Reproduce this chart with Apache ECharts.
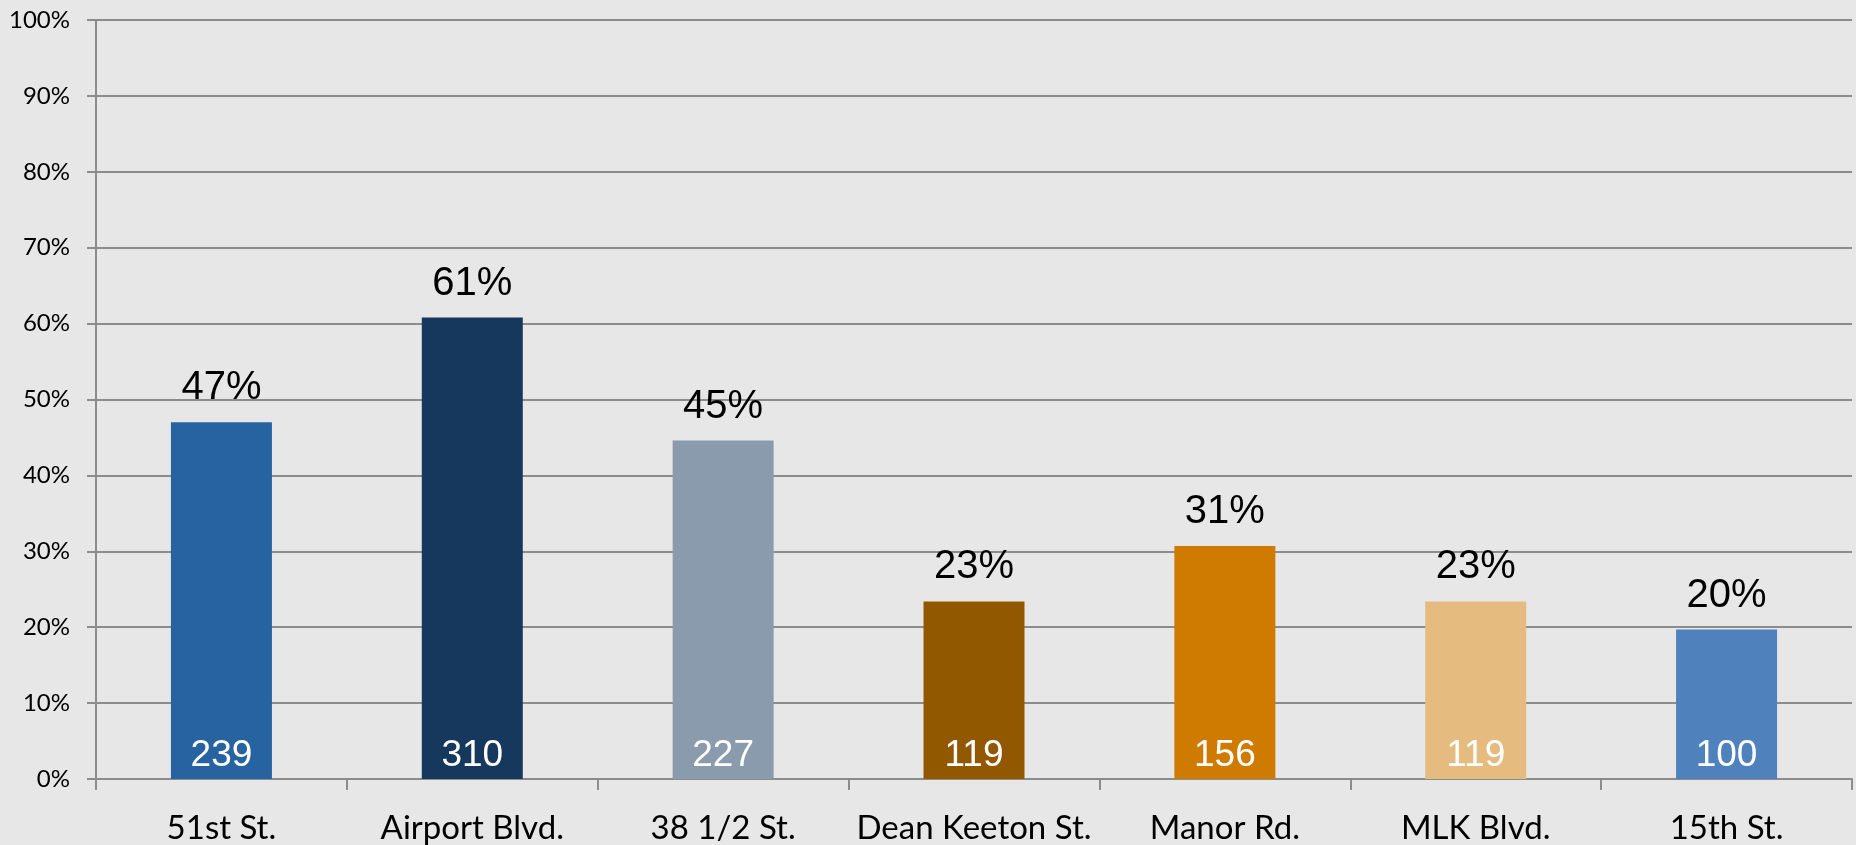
<!DOCTYPE html>
<html><head><meta charset="utf-8">
<script src="https://cdn.jsdelivr.net/npm/echarts@6/dist/echarts.min.js"></script>
<style>html,body{margin:0;padding:0;background:#e7e7e7}#c{width:1856px;height:845px}</style>
</head><body><div id="c"></div>
<script>
const categories = ['51st St.', 'Airport Blvd.', '38 1/2 St.', 'Dean Keeton St.', 'Manor Rd.', 'MLK Blvd.', '15th St.'];
const shares = [0.47, 0.608, 0.446, 0.234, 0.307, 0.234, 0.197];
const counts = [239, 310, 227, 119, 156, 119, 100];
const colors = ['#2763a0', '#16385c', '#8a9bad', '#925800', '#cf7a00', '#e5bb7f', '#4f81bd'];
const yTicks = [0, 0.1, 0.2, 0.3, 0.4, 0.5, 0.6, 0.7, 0.8, 0.9, 1.0];

const chart = echarts.init(document.getElementById('c'));
chart.setOption({
  backgroundColor: '#e7e7e7',
  animation: false,
  grid: { left: 96, right: 4, top: 20, bottom: 66 },
  xAxis: {
    type: 'category', data: categories,
    axisLine: { lineStyle: { color: '#8c8c8c', width: 2 } },
    axisTick: { show: true, length: 11, lineStyle: { color: '#8c8c8c', width: 2 } },
    axisLabel: { interval: 0, color: '#000', fontFamily: 'Lato', fontSize: 33, margin: 33 }
  },
  yAxis: {
    type: 'value', min: yTicks[0], max: yTicks[yTicks.length - 1], interval: 0.1,
    axisLine: { show: true, lineStyle: { color: '#8c8c8c', width: 2 } },
    axisTick: { show: true, length: 9, lineStyle: { color: '#8c8c8c', width: 2 } },
    splitLine: { lineStyle: { color: '#8c8c8c', width: 2 } },
    axisLabel: { color: '#000', fontFamily: 'Lato', fontSize: 24, margin: 26,
      formatter: v => Math.round(v * 100) + '%' }
  },
  series: [
    {
      type: 'bar', barWidth: 101,
      data: shares.map((v, i) => ({ value: v, itemStyle: { color: colors[i] } })),
      label: { show: true, position: 'top', distance: 14, color: '#000',
        fontFamily: 'Liberation Sans', fontSize: 40,
        formatter: p => Math.round(p.value * 100) + '%' }
    },
    {
      type: 'bar', barWidth: 101, barGap: '-100%', silent: true,
      data: shares.map((v, i) => ({ value: v })),
      itemStyle: { color: 'rgba(0,0,0,0)' },
      label: { show: true, position: 'insideBottom', distance: 5, color: '#fff',
        fontFamily: 'Liberation Sans', fontSize: 37,
        formatter: p => String(counts[p.dataIndex]) }
    }
  ]
});
</script></body></html>
